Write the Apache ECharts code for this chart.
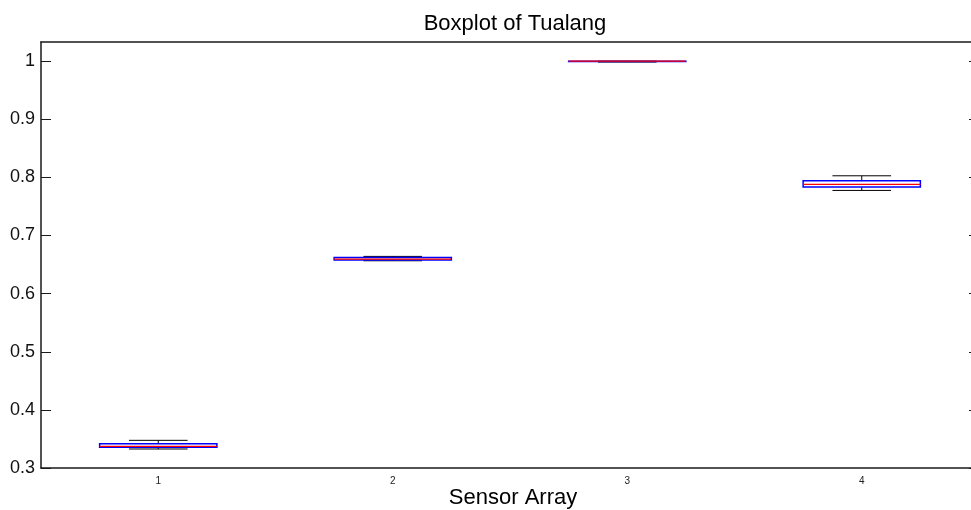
<!DOCTYPE html>
<html>
<head>
<meta charset="utf-8">
<script src="https://cdn.jsdelivr.net/npm/echarts@6/dist/echarts.min.js"></script>
<style>
  html, body { margin: 0; padding: 0; background: #fff; }
  #chart { width: 971px; height: 510px; }
</style>
</head>
<body>
<div id="chart"></div>
<script>
  // data
  let sensors = [1, 2, 3, 4]
  let lowerWhisker = [0.3327, 0.6566, 0.9985, 0.7776]
  let q1 = [0.3356, 0.6578, 0.9995, 0.7833]
  let median = [0.3373, 0.6595, 1.0, 0.7880]
  let q3 = [0.3418, 0.6624, 1.0, 0.7941]
  let upperWhisker = [0.3476, 0.6641, 1.0, 0.8028]
  let yTicks = [0.3, 0.4, 0.5, 0.6, 0.7, 0.8, 0.9, 1]

  let boxData = sensors.map((s, i) => [s, lowerWhisker[i], q1[i], median[i], q3[i], upperWhisker[i]])

  let myChart = echarts.init(document.getElementById('chart'))

  function renderBox (params, api) {
    let x = api.value(0)
    let lo = api.coord([x, api.value(1)])
    let b1 = api.coord([x, api.value(2)])
    let md = api.coord([x, api.value(3)])
    let b3 = api.coord([x, api.value(4)])
    let hi = api.coord([x, api.value(5)])
    let boxHalf = api.size([0.25, 0])[0]
    let capHalf = api.size([0.125, 0])[0]
    let cx = lo[0]
    let black = { stroke: '#000', lineWidth: 1 }
    return {
      type: 'group',
      children: [
        { type: 'line', shape: { x1: cx, y1: hi[1], x2: cx, y2: b3[1] }, style: black },
        { type: 'line', shape: { x1: cx, y1: lo[1], x2: cx, y2: b1[1] }, style: black },
        { type: 'line', shape: { x1: cx - capHalf, y1: hi[1], x2: cx + capHalf, y2: hi[1] }, style: black },
        { type: 'line', shape: { x1: cx - capHalf, y1: lo[1], x2: cx + capHalf, y2: lo[1] }, style: black },
        {
          type: 'rect',
          shape: { x: cx - boxHalf, y: b3[1], width: boxHalf * 2, height: b1[1] - b3[1] },
          style: { fill: 'none', stroke: '#0000ff', lineWidth: 1.5 }
        },
        { type: 'line', shape: { x1: cx - boxHalf, y1: md[1], x2: cx + boxHalf, y2: md[1] }, style: { stroke: '#ff0000', lineWidth: 1.2 } }
      ]
    }
  }

  let fmt = v => String(parseFloat(v.toFixed(2)))

  let option = {
    animation: false,
    backgroundColor: '#fff',
    title: [
      {
        text: 'Boxplot of Tualang',
        left: 510,
        top: 8,
        textAlign: 'center',
        textStyle: { fontFamily: 'Liberation Sans', fontSize: 22, fontWeight: 'normal', color: '#000' }
      },
      {
        text: 'Sensor Array',
        left: 508,
        top: 482,
        textAlign: 'center',
        textStyle: { fontFamily: 'Liberation Sans', fontSize: 22, fontWeight: 'normal', color: '#000' }
      }
    ],
    grid: {
      left: 41,
      top: 42,
      right: -8,
      bottom: 42,
      outerBoundsMode: 'none'
    },
    xAxis: [
      {
        type: 'value',
        min: 0.5,
        max: 4.5,
        interval: 1,
        axisLine: { lineStyle: { color: '#1a1a1a', width: 1.5 } },
        axisTick: { show: false },
        splitLine: { show: false },
        axisLabel: {
          fontFamily: 'Liberation Sans',
          fontSize: 10,
          color: '#222',
          margin: 8,
          customValues: sensors
        }
      },
      {
        type: 'value',
        position: 'top',
        min: 0.5,
        max: 4.5,
        axisLine: { lineStyle: { color: '#1a1a1a', width: 1.5 } },
        axisTick: { show: false },
        axisLabel: { show: false },
        splitLine: { show: false }
      }
    ],
    yAxis: [
      {
        type: 'value',
        min: 0.3,
        max: 1.033,
        axisLine: { show: true, lineStyle: { color: '#1a1a1a', width: 1.5 } },
        axisTick: { show: true, inside: true, length: 10, lineStyle: { color: '#1a1a1a' }, customValues: yTicks },
        splitLine: { show: false },
        axisLabel: {
          fontFamily: 'Liberation Sans',
          fontSize: 18,
          color: '#111',
          margin: 6,
          customValues: yTicks,
          formatter: fmt
        }
      },
      {
        type: 'value',
        position: 'right',
        min: 0.3,
        max: 1.033,
        axisLine: { show: true, lineStyle: { color: '#1a1a1a', width: 1.5 } },
        axisTick: { show: true, inside: true, length: 10, lineStyle: { color: '#1a1a1a' }, customValues: yTicks },
        axisLabel: { show: false },
        splitLine: { show: false }
      }
    ],
    series: [
      {
        type: 'custom',
        renderItem: renderBox,
        encode: { x: 0, y: [1, 2, 3, 4, 5] },
        data: boxData,
        clip: false
      }
    ]
  }
  myChart.setOption(option)
</script>
</body>
</html>
